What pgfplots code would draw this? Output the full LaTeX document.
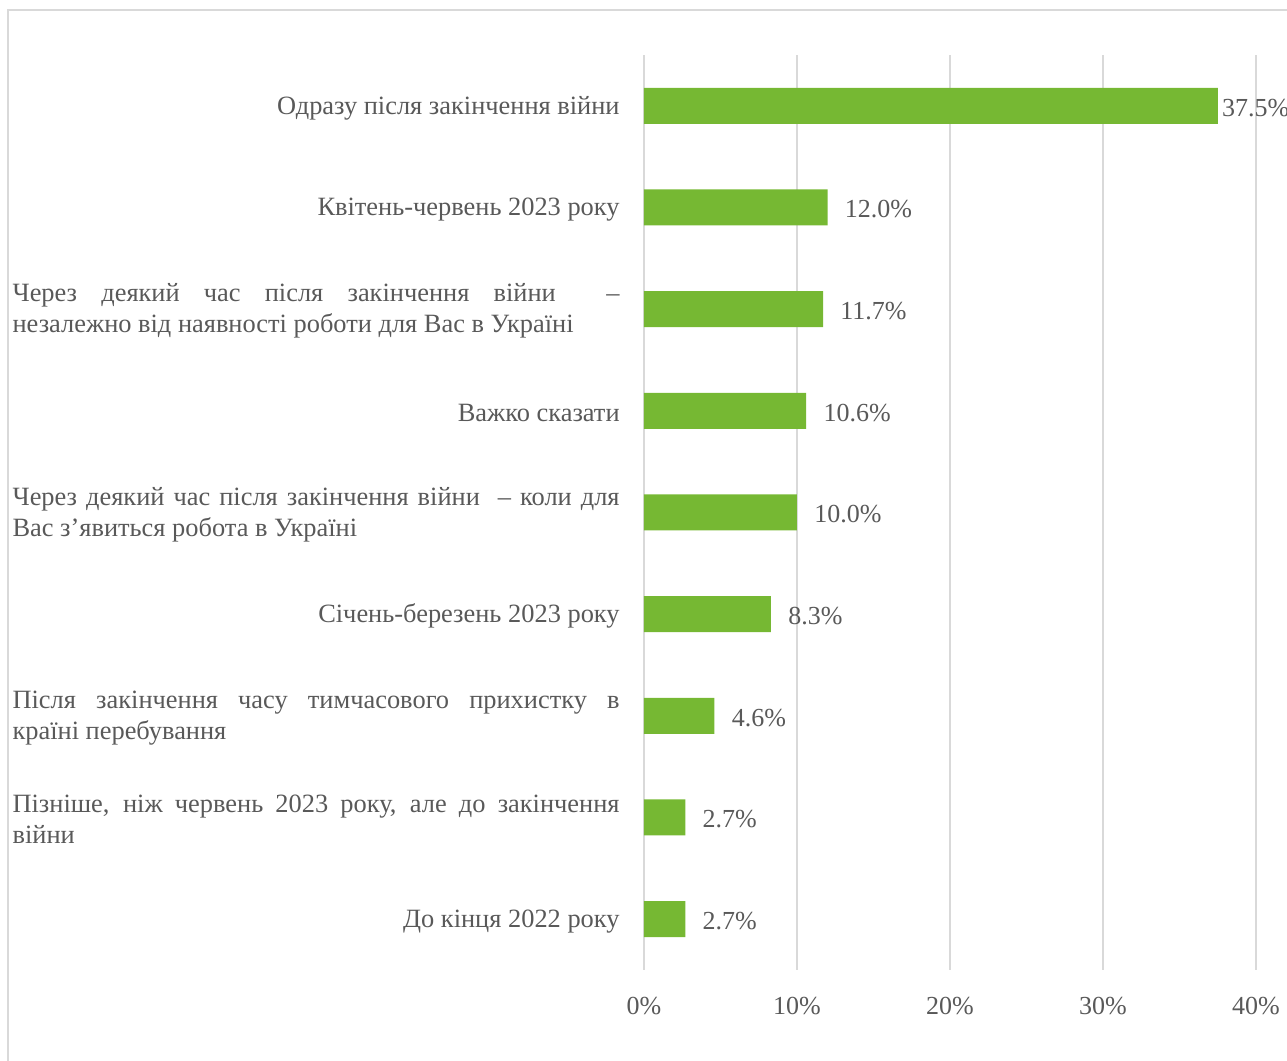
\documentclass[border=0pt]{standalone}
\usepackage{fontspec}
\setmainfont{Liberation Serif}
\usepackage{pgfplots}
\usepackage{pgfplotstable}
\pgfplotsset{compat=1.18}
\definecolor{bargreen}{HTML}{76B833}
\definecolor{gridgray}{HTML}{D9D9D9}
\definecolor{txt}{HTML}{595959}
\pgfplotstableread{
y x shift
9 37.5 2
8 12.0 8.5
7 11.7 8.5
6 10.6 8.5
5 10.0 8.5
4 8.3 8.5
3 4.6 8.5
2 2.7 8.5
1 2.7 8.5
}\data
\newcommand{\lab}[1]{\parbox[c]{303.5pt}{\noindent\baselineskip=15.5pt #1}}
\begin{document}
\begin{tikzpicture}
\useasboundingbox (0,0) rectangle (643.5pt,530.5pt);
\draw[gridgray, line width=1pt] (4pt,-5pt) -- (4pt,525.5pt) -- (650pt,525.5pt);
\begin{axis}[
  at={(322pt,45.5pt)}, anchor=south west,
  scale only axis, width=306pt, height=457.5pt,
  xmin=0, xmax=40, ymin=0.5, ymax=9.5,
  xbar, bar width=18pt,
  axis line style={draw=none},
  major tick length=0pt,
  xmajorgrids, grid style={gridgray, line width=0.8pt},
  xtick={0,10,20,30,40},
  xticklabels={0\%,10\%,20\%,30\%,40\%},
  xticklabel style={font=\fontsize{13}{15}\selectfont, text=txt, yshift=-10pt},
  ytick={1,...,9},
  yticklabels={
    До кінця 2022 року,
    \lab{Пізніше, ніж червень 2023 року, але до закінчення\linebreak війни},
    \lab{Після закінчення часу тимчасового прихистку в\linebreak країні перебування},
    Січень-березень 2023 року,
    \lab{Через деякий час після закінчення війни \ – коли для\linebreak Вас з’явиться робота в Україні},
    Важко сказати,
    \lab{Через деякий час після закінчення війни \quad –\linebreak незалежно від наявності роботи для Вас в Україні},
    Квітень-червень 2023 року,
    Одразу після закінчення війни},
  yticklabel style={font=\fontsize{13.2}{15.5}\selectfont, text=txt, inner sep=0pt, anchor=east, xshift=-12pt, yshift=-1pt, align=right},
  nodes near coords={\pgfmathprintnumber[fixed, fixed zerofill, precision=1, assume math mode=true]{\pgfplotspointmeta}\%},
  point meta=explicit,
  visualization depends on={\thisrow{shift} \as \lshift},
  nodes near coords style={font=\fontsize{13}{15}\selectfont, text=txt, anchor=west, inner sep=0pt, xshift=\lshift pt, yshift=-1pt},
  clip=false,
]
\addplot[fill=bargreen, draw=none] table[x=x, y=y, meta=x] {\data};
\end{axis}
\end{tikzpicture}
\end{document}
